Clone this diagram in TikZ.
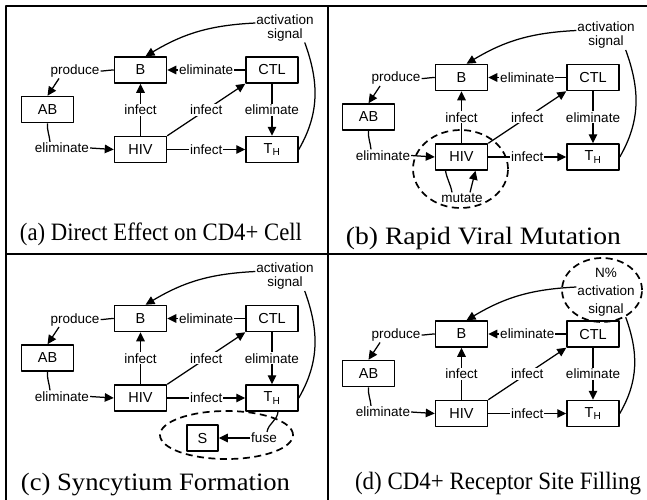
\documentclass[tikz,border=0pt]{standalone}
\usepackage{fontspec}
\usepackage{graphicx}
\setmainfont{Liberation Serif}
\setsansfont{Liberation Sans}
\usetikzlibrary{arrows.meta}

\begin{document}
\begin{tikzpicture}[x=1pt, y=1pt, line join=round, >={Triangle[length=9pt,width=8.5pt]},
	box/.style={draw, line width=1.5pt, minimum width=52pt, minimum height=26pt, inner sep=0pt, font=\fontsize{14.5}{16}\sffamily},
	lbl/.style={font=\fontsize{13.5}{14}\sffamily, inner sep=1pt, fill=white},
	con/.style={line width=1.25pt},
	ring/.style={line width=1.7pt, dash pattern=on 7pt off 4.5pt},
	capt/.style={font=\fontsize{25}{28}\selectfont, inner sep=0pt}]
	\useasboundingbox (0,0) rectangle (647,-499);
	% frame
	\draw[line width=2.8pt] (6,-520) -- (6,-6) -- (670,-6);
	\draw[line width=2.8pt] (328,-6) -- (328,-520) (6,-254) -- (670,-254);
	% the same network in all four panels
	\foreach \p/\dx/\dy/\sig in {a/0/0/{activation\\signal}, b/321/-7.5/{activation\\signal},
		c/0/-248.5/{activation\\signal}, d/321/-264/{N\%\\[4pt]activation\\[4pt]signal}}{
		\begin{scope}[shift={(\dx,\dy)}]
			\node[box] (\p B) at (140.5,-70) {B};
			\node[box] (\p CTL) at (272,-70) {CTL};
			\node[box] (\p AB) at (47.5,-109.5) {AB};
			\node[box] (\p HIV) at (140.5,-149.5) {HIV};
			\node[box] (\p TH) at (272,-149.5) {T\textsubscript{H}};
			\node[lbl] (\p prod) at (75,-71) {produce};
			\node[lbl] (\p elim) at (62,-148) {eliminate};
			\node[lbl, align=center] (\p sig) at (285,-28) {\sig};
			\draw[con,->] (\p CTL) -- node[lbl]{eliminate} (\p B);
			\draw[con,->] (\p CTL) -- node[lbl]{eliminate} (\p TH);
			\draw[con,->] (\p HIV) -- node[lbl]{infect} (\p B);
			\draw[con,->] (\p HIV.north east) -- node[lbl]{infect} (\p CTL.south west);
			\draw[con,->] (\p HIV) -- node[lbl]{infect} (\p TH);
			\draw[con] (\p prod.east) to[out=0,in=180] (\p B.west);
			\draw[con,->] ([xshift=-16pt]\p prod.south) -- (\p AB.north);
			\draw[con] (\p AB.south) to[out=-95,in=95] ([xshift=-12pt]\p elim.north);
			\draw[con,->] (\p elim.east) -- (\p HIV.west);
			\draw[con,->] ([yshift=5pt]\p sig.west) to[bend right=14] ([xshift=5pt]\p B.north);
			\draw[con] (\p TH.east) to[out=60,in=-70] ([xshift=-10pt]\p sig.south east);
		\end{scope}
	}
	% (b) mutation
	\node[lbl, fill=none] (bmut) at (462,-198) {mutate};
	\draw[con] ([xshift=-16pt]bHIV.south) to[out=-80,in=100] ([xshift=-10pt]bmut.north);
	\draw[con,->] ([xshift=8pt]bmut.north) -- ([xshift=14pt]bHIV.south);
	\draw[ring] (460.5,-169) ellipse [x radius=47.5, y radius=39];
	% (c) syncytium
	\node[box, minimum width=31pt] (cS) at (202.5,-438) {S};
	\node[lbl] (cfuse) at (264,-438) {fuse};
	\draw[con] ([xshift=6pt]cTH.south) to[out=-95,in=80] ([xshift=3pt]cfuse.north);
	\draw[con,->] (cfuse) -- (cS);
	\draw[ring] (226.5,-435) ellipse [x radius=66.5, y radius=24];
	% (d) receptor filling
	\draw[ring] (602,-290) ellipse [x radius=40, y radius=32];
	% captions
	\node[capt] (capa) at (161,-234) {\resizebox{282pt}{\height}{(a) Direct Effect on CD4+ Cell}};
	\node[capt] (capb) at (483.5,-238) {\resizebox{275pt}{\height}{(b) Rapid Viral Mutation}};
	\node[capt] (capc) at (155.5,-485) {\resizebox{269pt}{\height}{(c) Syncytium Formation}};
	\node[capt] (capd) at (498,-484) {\resizebox{286pt}{\height}{(d) CD4+ Receptor Site Filling}};
\end{tikzpicture}
\end{document}
